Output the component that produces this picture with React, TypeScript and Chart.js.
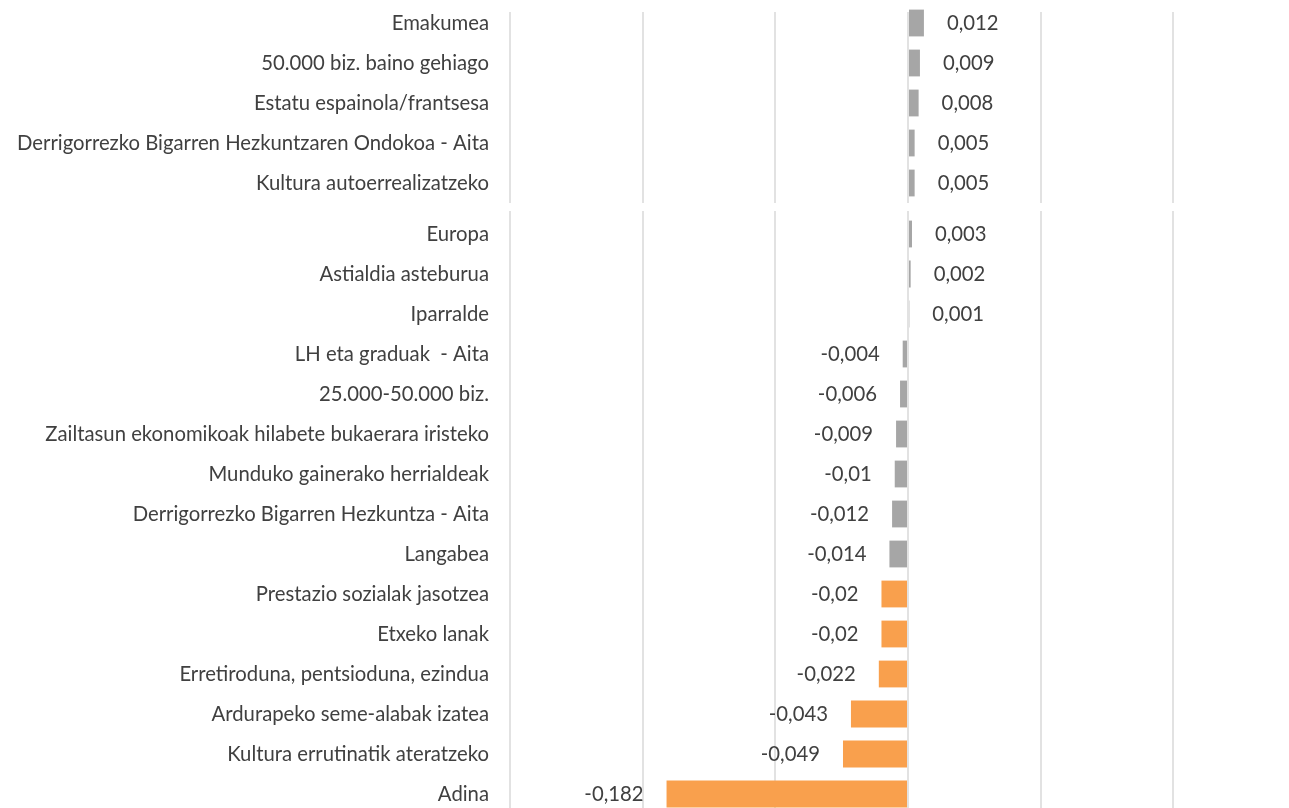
import React, { useEffect, useRef } from "react";
import { Chart, registerables } from "chart.js";

Chart.register(...registerables);

// ---- data ----
const categories: string[] = [
  "Emakumea",
  "50.000 biz. baino gehiago",
  "Estatu espainola/frantsesa",
  "Derrigorrezko Bigarren Hezkuntzaren Ondokoa - Aita",
  "Kultura autoerrealizatzeko",
  "Europa",
  "Astialdia asteburua",
  "Iparralde",
  "LH eta graduak  - Aita",
  "25.000-50.000 biz.",
  "Zailtasun ekonomikoak hilabete bukaerara iristeko",
  "Munduko gainerako herrialdeak",
  "Derrigorrezko Bigarren Hezkuntza - Aita",
  "Langabea",
  "Prestazio sozialak jasotzea",
  "Etxeko lanak",
  "Erretiroduna, pentsioduna, ezindua",
  "Ardurapeko seme-alabak izatea",
  "Kultura errutinatik ateratzeko",
  "Adina",
];

const values: number[] = [
  0.012, 0.009, 0.008, 0.005, 0.005, 0.003, 0.002, 0.001, -0.004, -0.006,
  -0.009, -0.01, -0.012, -0.014, -0.02, -0.02, -0.022, -0.043, -0.049, -0.182,
];

const highlighted: boolean[] = [
  false, false, false, false, false, false, false, false, false, false,
  false, false, false, false, true, true, true, true, true, true,
];

// rows in the first (upper) panel of the stitched picture
const firstPanelRows = 5;

const xMin = -0.3;
const xMax = 0.3;
const xStep = 0.1;

// ---- style ----
const GRAY = "#A6A6A6";
const ORANGE = "#F9A04D";
const TEXT = "#404040";
const GRID = "#E2E2E2";
const FONT = "Lato, 'Open Sans', sans-serif";
const FONT_SIZE = 20.3;
const CANVAS_W = 1310;

const fmt = (v: number) => String(v).replace(".", ",");

// gridTop: canvas y at which the vertical grid lines should begin
function labelPlugin(gridTop: number) {
  return {
    id: "valueLabels",
    beforeDatasetsDraw(chart: any) {
      const { ctx, chartArea } = chart;
      ctx.save();
      if (gridTop > chartArea.top) {
        ctx.fillStyle = "#ffffff";
        ctx.fillRect(chartArea.left - 2, 0, chartArea.right - chartArea.left + 4, gridTop);
      } else if (gridTop < chartArea.top) {
        const xs = chart.scales.x;
        ctx.strokeStyle = GRID;
        ctx.lineWidth = 2;
        xs.ticks.forEach((t: any) => {
          const px = Math.round(xs.getPixelForValue(t.value));
          ctx.beginPath();
          ctx.moveTo(px, gridTop);
          ctx.lineTo(px, chartArea.top);
          ctx.stroke();
        });
      }
      ctx.restore();
    },
    afterDatasetsDraw(chart: any) {
      const { ctx } = chart;
      const meta = chart.getDatasetMeta(0);
      const data = chart.data.datasets[0].data as number[];
      ctx.save();
      ctx.font = `${FONT_SIZE}px ${FONT}`;
      ctx.fillStyle = TEXT;
      ctx.textBaseline = "middle";
      meta.data.forEach((bar: any, i: number) => {
        const v = data[i];
        if (v >= 0) {
          ctx.textAlign = "left";
          ctx.fillText(fmt(v), bar.x + 23, bar.y);
        } else {
          ctx.textAlign = "right";
          ctx.fillText(fmt(v), bar.x - 23, bar.y);
        }
      });
      ctx.restore();
    },
  };
}

function makeConfig(labels: string[], data: number[], flags: boolean[], gridTop: number): any {
  return {
    type: "bar",
    data: {
      labels,
      datasets: [
        {
          data,
          backgroundColor: flags.map((f) => (f ? ORANGE : GRAY)),
          borderWidth: 0,
          categoryPercentage: 1,
          barPercentage: 0.67,
        },
      ],
    },
    options: {
      indexAxis: "y",
      animation: false,
      responsive: false,
      maintainAspectRatio: false,
      events: [],
      layout: { padding: { top: 3, right: 4, left: 0, bottom: 0 } },
      plugins: {
        legend: { display: false },
        tooltip: { enabled: false },
        title: { display: false },
      },
      scales: {
        x: {
          min: xMin,
          max: xMax,
          ticks: { display: false, stepSize: xStep },
          grid: { color: GRID, lineWidth: 2, drawTicks: false },
          border: { display: false },
          afterFit: (s: any) => {
            s.height = 0;
            s.paddingLeft = 0;
            s.paddingRight = 0;
          },
        },
        y: {
          grid: { display: false, drawTicks: false },
          border: { display: false },
          ticks: {
            color: TEXT,
            font: { family: FONT, size: FONT_SIZE },
            padding: 21,
            autoSkip: false,
          },
          afterFit: (s: any) => {
            s.width = 510;
            s.paddingTop = 0;
            s.paddingBottom = 0;
          },
        },
      },
    },
    plugins: [labelPlugin(gridTop)],
  };
}

function Panel(props: {
  labels: string[];
  data: number[];
  flags: boolean[];
  top: number;
  height: number;
  gridTop: number;
}) {
  const ref = useRef<HTMLCanvasElement | null>(null);
  useEffect(() => {
    if (!ref.current) return;
    const chart = new Chart(ref.current, makeConfig(props.labels, props.data, props.flags, props.gridTop));
    return () => chart.destroy();
  }, []);
  return (
    <div
      style={{
        position: "absolute",
        left: 0,
        top: props.top,
        width: CANVAS_W,
        height: props.height,
        overflow: "hidden",
      }}
    >
      <canvas
        ref={ref}
        width={CANVAS_W}
        height={props.height}
        style={{ display: "block", width: CANVAS_W + "px", height: props.height + "px" }}
      />
    </div>
  );
}

export default function App() {
  const topLabels = categories.slice(0, firstPanelRows);
  const botLabels = categories.slice(firstPanelRows);
  return (
    <div
      style={{
        position: "fixed",
        left: 0,
        top: 0,
        width: 1289,
        height: 808,
        overflow: "hidden",
        background: "#ffffff",
      }}
    >
      <Panel
        labels={topLabels}
        data={values.slice(0, firstPanelRows)}
        flags={highlighted.slice(0, firstPanelRows)}
        top={0}
        height={203}
        gridTop={12}
      />
      <Panel
        labels={botLabels}
        data={values.slice(firstPanelRows)}
        flags={highlighted.slice(firstPanelRows)}
        top={211}
        height={603}
        gridTop={0}
      />
    </div>
  );
}
